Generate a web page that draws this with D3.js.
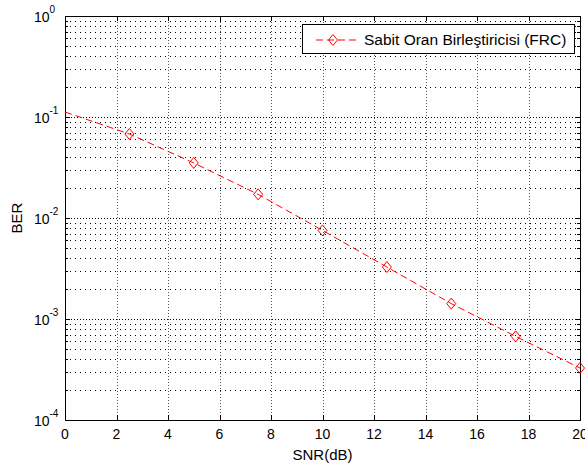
<!DOCTYPE html>
<html>
<head>
<meta charset="utf-8">
<script src="https://cdn.jsdelivr.net/npm/d3@7"></script>
<style>
	body { margin: 0; background: #fff; }
	svg { display: block; }
	text { font-family: "Liberation Sans", Arial, Helvetica, sans-serif; fill: #000; }
</style>
</head>
<body>
<svg id="chart" width="585" height="468"></svg>
<script>
// values
const snr = [0, 2.5, 5, 7.5, 10, 12.5, 15, 17.5, 20];
const ber = [0.112, 0.0679, 0.0351, 0.01714, 0.00754, 0.00327, 0.00142, 0.000673, 0.000327];
const markerFrom = 1; // no marker on the first point
const xTicks = [0, 2, 4, 6, 8, 10, 12, 14, 16, 18, 20];
const yExponents = [0, -1, -2, -3, -4];
const seriesName = 'Sabit Oran Birleştiricisi (FRC)';
const xLabel = 'SNR(dB)';
const yLabel = 'BER';

const svg = d3.select('#chart');
const plotL = 65, plotR = 580, plotT = 16, plotB = 420;

const x = d3.scaleLinear().domain([0, 20]).range([plotL, plotR]);
const y = d3.scaleLog().domain([1e-4, 1]).range([plotB, plotT]);

// minor decades 2..9 for every decade
let minorVals = [];
for (let e = -4; e < 0; e++) {
	for (let m = 2; m <= 9; m++) minorVals.push(m * Math.pow(10, e));
}
const majorVals = yExponents.map(e => Math.pow(10, e));

// grid: minor rows sparser, major rows and columns denser (like matlab overlap)
const grid = svg.append('g').attr('stroke', '#000').attr('stroke-width', 1)
	.attr('shape-rendering', 'crispEdges');
grid.selectAll('.mg').data(minorVals).enter()
	.append('line')
	.attr('stroke-dasharray', '1,4')
	.attr('x1', plotL).attr('x2', plotR)
	.attr('y1', d => Math.round(y(d)) + 0.5).attr('y2', d => Math.round(y(d)) + 0.5);
grid.selectAll('.hg').data(majorVals).enter()
	.append('line')
	.attr('stroke-dasharray', '1,2')
	.attr('x1', plotL).attr('x2', plotR)
	.attr('y1', d => Math.round(y(d)) + 0.5).attr('y2', d => Math.round(y(d)) + 0.5);
grid.selectAll('.vg').data(xTicks.slice(1, -1)).enter()
	.append('line')
	.attr('stroke', '#555')
	.attr('stroke-dasharray', '1,2')
	.attr('x1', d => Math.round(x(d)) + 0.5).attr('x2', d => Math.round(x(d)) + 0.5)
	.attr('y1', plotT).attr('y2', plotB);

// ticks, inward on all four sides
const ticks = svg.append('g').attr('stroke', '#000').attr('stroke-width', 1).attr('shape-rendering', 'crispEdges');
xTicks.forEach(t => {
	let px = Math.round(x(t)) + 0.5;
	ticks.append('line').attr('x1', px).attr('x2', px).attr('y1', plotB).attr('y2', plotB - 5);
	ticks.append('line').attr('x1', px).attr('x2', px).attr('y1', plotT).attr('y2', plotT + 5);
});
majorVals.concat(minorVals).forEach((v, i) => {
	let py = Math.round(y(v)) + 0.5;
	let len = i < majorVals.length ? 5 : 3;
	ticks.append('line').attr('x1', plotL).attr('x2', plotL + len).attr('y1', py).attr('y2', py);
	ticks.append('line').attr('x1', plotR - len).attr('x2', plotR).attr('y1', py).attr('y2', py);
});

// axes box
svg.append('rect')
	.attr('x', plotL + 0.5).attr('y', plotT + 0.5)
	.attr('width', plotR - plotL).attr('height', plotB - plotT)
	.attr('fill', 'none').attr('stroke', '#000').attr('shape-rendering', 'crispEdges');

// tick labels
svg.append('g').selectAll('text').data(xTicks).enter()
	.append('text')
	.attr('x', d => x(d)).attr('y', 439)
	.attr('text-anchor', 'middle')
	.style('font-size', '14px')
	.text(d => d);

const yl = svg.append('g');
yExponents.forEach(e => {
	let py = y(Math.pow(10, e));
	yl.append('text').attr('x', 49.5).attr('y', py + 5.5)
		.attr('text-anchor', 'end').style('font-size', '14px').text('10');
	yl.append('text').attr('x', 49.5).attr('y', py - 3.5)
		.style('font-size', '10px').text(e);
});

// axis labels
svg.append('text').attr('x', (plotL + plotR) / 2).attr('y', 460)
	.attr('text-anchor', 'middle').style('font-size', '15px').text(xLabel);
svg.append('text').attr('transform', `translate(22, ${(plotT + plotB) / 2}) rotate(-90)`)
	.attr('text-anchor', 'middle').style('font-size', '15px').text(yLabel);

// series
const pts = snr.map((s, i) => ({s: s, b: ber[i]}));
const line = d3.line().x(d => x(d.s)).y(d => y(d.b));
svg.append('path').datum(pts)
	.attr('d', line)
	.attr('fill', 'none').attr('stroke', '#ff0000').attr('stroke-width', 1)
	.attr('stroke-dasharray', '7,4');

function diamond(g, cx, cy) {
	g.append('path')
		.attr('d', `M${cx},${cy - 5.5}L${cx + 4.5},${cy}L${cx},${cy + 5.5}L${cx - 4.5},${cy}Z`)
		.attr('fill', 'none').attr('stroke', '#ff0000').attr('stroke-width', 1);
}
const marks = svg.append('g');
pts.slice(markerFrom).forEach(d => diamond(marks, x(d.s), y(d.b)));

// legend
const lg = svg.append('g');
lg.append('rect').attr('x', 302.5).attr('y', 24.5).attr('width', 272).attr('height', 29)
	.attr('fill', '#fff').attr('stroke', '#000').attr('shape-rendering', 'crispEdges');
lg.append('line').attr('x1', 316).attr('x2', 360).attr('y1', 40).attr('y2', 40)
	.attr('stroke', '#ff0000').attr('stroke-dasharray', '7,4');
diamond(lg, 333, 40);
lg.append('text').attr('x', 364).attr('y', 45).style('font-size', '15.5px').text(seriesName);
</script>
</body>
</html>
